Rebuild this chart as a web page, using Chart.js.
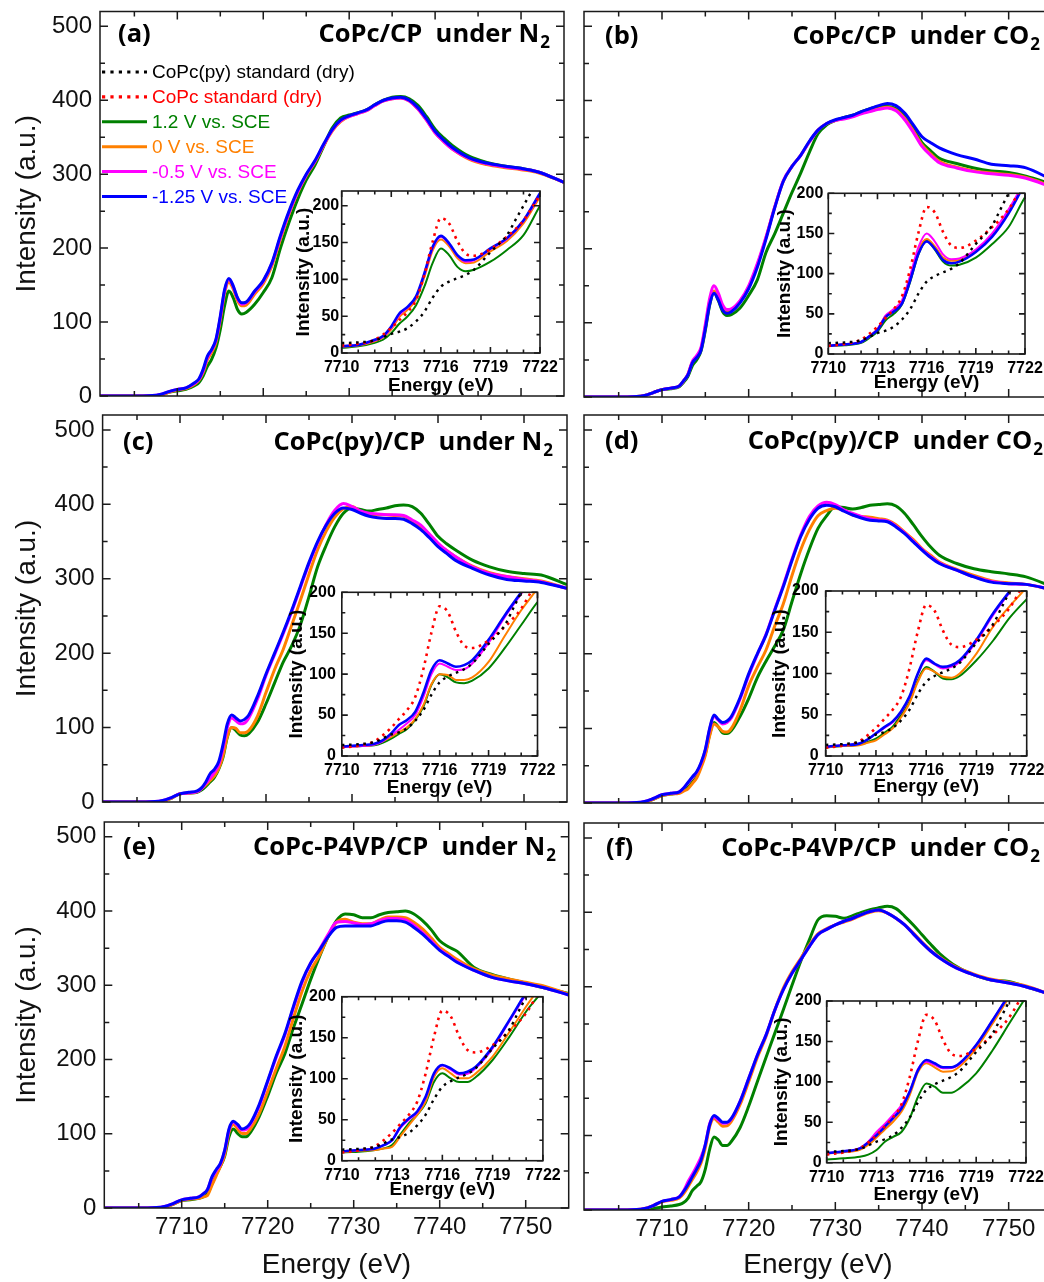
<!DOCTYPE html>
<html><head><meta charset="utf-8">
<script src="https://cdn.jsdelivr.net/npm/chart.js@4.4.0/dist/chart.umd.min.js"></script>
<style>
html,body{margin:0;padding:0;background:#fff;overflow:hidden;}
body{position:relative;width:1044px;height:1282px;}
canvas{position:absolute;}
</style></head><body>
<canvas id="ma"></canvas><canvas id="mb"></canvas><canvas id="mc"></canvas>
<canvas id="md"></canvas><canvas id="me"></canvas><canvas id="mf"></canvas>
<canvas id="ia"></canvas><canvas id="ib"></canvas><canvas id="ic"></canvas>
<canvas id="id"></canvas><canvas id="ie"></canvas><canvas id="if"></canvas>
<script>
// ---------------- DATA ----------------
const MAIN_ENERGY = [7701, 7706, 7708, 7709, 7710, 7711, 7712, 7712.5, 7713, 7713.5, 7714, 7714.5, 7715, 7715.5, 7716, 7716.5, 7717, 7717.5, 7718, 7719, 7720, 7721, 7722, 7723, 7724, 7725, 7726, 7727, 7728, 7729, 7730, 7731, 7732, 7733, 7734, 7735, 7736, 7737, 7738, 7739, 7740, 7741, 7742, 7744, 7746, 7748, 7750, 7752, 7755];

const A_GREEN   = [0,0,1,5,7,9,14,18,27,40, 50,65,90,122,142,133,117,111,113,124, 140,160,200,235,266,292,312,337,362,376, 380,383,387,394,400,404,405,402,393,378, 361,349,339,324,316,311,308,303,289];
const A_ORANGE  = [0,0,1,5,8,10,16,21,32,49, 59,73,103,139,154,145,129,122,123,138, 152,176,212,246,275,298,316,338,358,371, 378,382,386,393,399,402,403,399,388,373, 356,344,334,320,313,309,306,302,289];
const A_MAGENTA = [0,0,2,6,9,11,17,22,34,52, 62,76,106,142,158,148,132,124,126,141, 155,179,215,248,276,299,317,339,359,372, 378,382,386,393,399,402,403,399,388,373, 356,344,334,321,314,310,307,303,289];
const A_BLUE    = [0,0,2,6,9,11,18,23,36,54, 63,77,108,144,159,149,133,126,127,142, 156,180,217,250,278,300,318,340,360,373, 379,383,387,394,400,403,404,400,390,375, 358,346,336,322,315,311,308,303,289];

const B_GREEN   = [0,0,2,6,10,11,14,20,28,42, 50,62,90,124,141,130,115,110,111,120, 137,158,195,220,248,276,302,330,355,367, 373,377,380,385,389,392,392,389,380,362, 343,332,322,315,309,305,303,298,287];
const B_ORANGE  = [0,0,2,6,10,12,15,22,31,47, 54,65,95,129,143,134,120,116,117,129, 148,178,215,256,291,311,326,344,360,369, 373,376,379,383,386,389,391,387,376,359, 340,328,318,310,305,302,300,296,284];
const B_MAGENTA = [0,0,2,6,10,12,15,22,31,48, 56,67,98,133,150,140,124,118,119,130, 150,180,216,256,292,311,326,344,360,369, 373,375,378,382,385,388,390,386,374,357, 338,326,316,309,304,301,299,295,283];
const B_BLUE    = [0,0,2,6,10,12,15,22,30,46, 53,63,92,125,140,131,117,113,115,127, 146,175,213,255,291,311,326,345,360,369, 374,377,380,385,389,393,396,393,383,367, 351,343,336,327,321,314,312,309,293];

const C_GREEN   = [0,0,1,5,11,12,13,16,21,27, 33,44,60,87,100,96,90,89,92,107, 132,160,188,210,238,276,316,345,370,388, 395,393,391,393,395,398,399,397,388,373, 357,347,339,325,316,310,307,305,292];
const C_ORANGE  = [0,0,1,5,11,12,14,18,23,29, 35,45,62,88,100,99,93,93,96,115, 147,178,205,238,271,306,339,364,383,394, 397,390,386,386,386,385,384,378,368,357, 346,338,330,317,308,303,300,297,287];
const C_MAGENTA = [0,0,2,6,11,12,14,18,25,32, 40,50,72,100,113,109,105,106,113,138, 170,198,226,256,288,320,348,373,392,401, 397,391,388,387,386,386,385,379,372,360, 348,338,330,316,307,303,299,296,287];
const C_BLUE    = [0,0,2,6,11,13,15,19,27,38, 44,54,77,105,117,113,109,111,117,142, 172,200,228,258,290,322,350,372,388,395, 393,388,384,382,381,381,380,374,366,355, 343,334,325,314,305,299,297,295,287];

const D_GREEN   = [0,0,1,5,10,12,14,17,21,28, 35.5,50,66,92,108,102,94,93,97,116, 140,168,190,210,232,270,307,340,368,385, 397,396,394,396,399,400,401,398,388,373, 357,343,332,321,314,310,307,303,290];
const D_ORANGE  = [0,0,1,5,10,12,13,16,19,26, 33.5,47,64,90,106,102,96,95,100,124, 157,182,205,237,267,305,339,366,385,392, 395,392,386,384,383,381,379,373,363,353, 341,332,323,313,305,298,295,293,286];
const D_MAGENTA = [0,0,2,6,11,13,15,20,27,34, 41,53,71,99,116,111,106,108,114,139, 171,199,226,259,292,327,359,384,398,403, 400,393,388,384,381,379,378,371,362,351, 340,330,322,312,303,297,294,293,286];
const D_BLUE    = [0,0,2,6,11,13,15,20,27.5,35, 42,54,72,100,118,112,108,110,116,141, 173,200,225,258,290,325,357,380,395,399, 397,391,386,382,379,378,377,370,361,350, 339,329,321,312,303,296,294,293,286];

const E_GREEN   = [0,0,1,5,10,11,13,15,19,32, 45.5,56,70,96,106.5,100.4,96,96,102,122.8, 151,182,208,243,275,308,338,365,387,396, 395,391,391,395,398,399,400,396,387,375, 360,352,346,324,315,308.5,303,297,289];
const E_ORANGE  = [0,0,1,5,10,12,13,15,17,30, 43,56,72,102,112.6,106.5,100.4,100.4,106.5,127, 157,188,218,256,292,320,340,365,385,389, 385,383,383,388,392,392,391,385,376,364, 351,343,335,322,314,308.5,304,299.5,288];
const E_MAGENTA = [0,0,2,6,11,13,15,19,25,40, 50,59,77,105,116,111,105,106,113,137, 170,203,233,270,304,330,348,368,385,386, 384,382,383,387,390,390,388,381,371,360, 348,340,332,320,311,306,302,297,287];
const E_BLUE    = [0,0,2,6,11,13,15,19,25,41.5, 51.6,60,78,106.5,116.7,112.6,106.5,108.5,114.6,139, 171.5,205,235,272,306,330,347,365,378,380, 380,380,380,384,387,387,385,378,369,358, 347,339,331,320,311,306,302,297,287];

const F_GREEN   = [0,0,0,2,4,5.4,7.4,10,15.7,26, 32,38,55,81.6,98,94,86.6,86.6,92,110.5, 139.4,172.4,205,237,269,302,334,363,390,395.5, 394.6,392,395.5,400,403.6,406,408,405,394.6,383, 370,357,345,327,316,309,307,300,289];
const F_ORANGE  = [0,0,2,6,11,13,16,22,31,41, 50.7,63,83.7,112,123,118,112.6,113,119,141.4, 172.4,205,233,268,298,320,338,356,371,378, 383,387,391,396,400,402,399,392,383,372, 360,349,340,326,317,310,306,301,289];
const F_MAGENTA = [0,0,2,6,11.5,14,18,26,38,48, 59,71,88,116,125,121,116.7,117,122,145.6, 176.5,208,235,268,296,318,336,354,370,377, 383,388,392,397,401,403,399,392,383,371, 359,348,339,325,316,309,305,300,289];
const F_BLUE    = [0,0,2,6,11.5,14,17.7,25,34,44.5, 55,67,88,114.6,127,123,118,118,123,145.6, 176.5,208,235,268,296,318,336,354,370,377, 383,388,392,397,401,403,399,392,383,371, 359,348,339,325,316,309,305,300,289];

const STD_ENERGY  = [7710, 7711, 7712, 7713, 7713.5, 7714, 7714.5, 7715, 7715.5, 7716, 7716.5, 7717, 7717.5, 7718, 7719, 7720, 7720.5, 7721, 7722];
const STD_COPC_PY = [13.5, 14.4, 17, 26, 29, 34, 43, 56, 75, 90, 97, 101.6, 106, 113, 137, 160, 180, 200, 240];
const STD_COPC    = [10, 12.6, 18, 34, 45, 56, 72, 106, 151, 183, 176, 152, 135, 132, 141, 158, 168, 180, 215];

const SERIES_LABELS = ['CoPc(py) standard (dry)', 'CoPc standard (dry)', '1.2 V vs. SCE', '0 V vs. SCE', '-0.5 V vs. SCE', '-1.25 V vs. SCE'];
const PANEL_LETTERS = ['(a)', '(b)', '(c)', '(d)', '(e)', '(f)'];
const PANEL_TITLES = ['CoPc/CP  under N', 'CoPc/CP  under CO', 'CoPc(py)/CP  under N', 'CoPc(py)/CP  under CO', 'CoPc-P4VP/CP  under N', 'CoPc-P4VP/CP  under CO'];
const TITLE_SUBSCRIPT = '2';
const MAIN_X_TICKS = [7710, 7720, 7730, 7740, 7750];
const MAIN_X_MINOR = [7705, 7715, 7725, 7735, 7745];
const MAIN_Y_TICKS = [0, 100, 200, 300, 400, 500];
const MAIN_Y_MINOR = [50, 150, 250, 350, 450];
const INSET_X_TICKS = [7710, 7713, 7716, 7719, 7722];
const INSET_X_MINOR = [7711, 7712, 7714, 7715, 7717, 7718, 7720, 7721];
const INSET_Y_TICKS = [0, 50, 100, 150, 200];
const INSET_Y_MINOR = [25, 75, 125, 175];
const X_LABEL = 'Energy (eV)';
const Y_LABEL = 'Intensity (a.u.)';

// ---------------- STYLE / LAYOUT ----------------
const SANS = "'Liberation Sans', Arial, sans-serif";
const BOLD_TITLE = "'Open Sans', 'Liberation Sans', sans-serif";
const SERIES_STYLE = [
  {color:'#000000', dash:[2.6,4.6]},
  {color:'#ff0000', dash:[2.6,4.6]},
  {color:'#008000'},
  {color:'#ff8000'},
  {color:'#ff00ff'},
  {color:'#0000ff'}
];
const PANELS = [
  {m:'ma', i:'ia', s:[A_GREEN,A_ORANGE,A_MAGENTA,A_BLUE], left:true, bottom:false, legend:true,
   canvas:{left:0,top:0,w:580,h:412}, area:{l:100,t:11.5,r:564,b:396}, letter:[118,35], titleR:[550,35],
   ic:{left:280,top:178,w:280,h:222}, ia:{l:341.7,t:191,r:540,b:353}, ymax:220, energyY:386, titleX:303.3, yPad:2.5},
  {m:'mb', i:'ib', s:[B_GREEN,B_ORANGE,B_MAGENTA,B_BLUE], left:false, bottom:false,
   canvas:{left:574,top:0,w:496,h:412}, area:{l:584,t:11.5,r:1052,b:397}, letter:[605,37], titleR:[1040,37],
   ic:{left:760,top:180,w:290,h:220}, ia:{l:828.3,t:193.3,r:1025,b:354}, ymax:200, energyY:383, titleX:785, yPad:5},
  {m:'mc', i:'ic', s:[C_GREEN,C_ORANGE,C_MAGENTA,C_BLUE], left:true, bottom:false,
   canvas:{left:0,top:405,w:580,h:414}, area:{l:102.6,t:415,r:567,b:802}, letter:[123,443], titleR:[553,443],
   ic:{left:280,top:578,w:280,h:232}, ia:{l:341.8,t:592.3,r:537.5,b:756}, ymax:200, energyY:788, titleX:296.4, yPad:6},
  {m:'md', i:'id', s:[D_GREEN,D_ORANGE,D_MAGENTA,D_BLUE], left:false, bottom:false,
   canvas:{left:574,top:405,w:496,h:414}, area:{l:584,t:415,r:1052,b:803}, letter:[605,442], titleR:[1043,442],
   ic:{left:760,top:578,w:290,h:232}, ia:{l:825.7,t:591,r:1026.7,b:756}, ymax:200, energyY:786.7, titleX:780, yPad:7},
  {m:'me', i:'ie', s:[E_GREEN,E_ORANGE,E_MAGENTA,E_BLUE], left:true, bottom:true,
   canvas:{left:0,top:812,w:580,h:470}, area:{l:104.3,t:822,r:568.7,b:1208}, letter:[123,848], titleR:[556,848],
   ic:{left:280,top:983,w:280,h:232}, ia:{l:341.8,t:996.7,r:542.9,b:1160.7}, ymax:200, energyY:1190, titleX:296.4, yPad:6},
  {m:'mf', i:'if', s:[F_GREEN,F_ORANGE,F_MAGENTA,F_BLUE], left:false, bottom:true,
   canvas:{left:574,top:812,w:496,h:470}, area:{l:584,t:823,r:1052,b:1210}, letter:[606,849], titleR:[1040,849],
   ic:{left:760,top:988,w:290,h:232}, ia:{l:826.7,t:1001,r:1026,b:1162.7}, ymax:200, energyY:1195, titleX:781.7, yPad:5}
];

// ---------------- PLUGINS ----------------
const framePlugin = {
  id:'frame',
  beforeDraw(chart, args, o) {
    if (!o.fill) return;
    const {ctx, chartArea:a} = chart;
    ctx.save(); ctx.fillStyle = '#ffffff';
    ctx.fillRect(a.left, a.top, a.right - a.left, a.bottom - a.top);
    ctx.restore();
  },
  afterDatasetsDraw(chart, args, o) {
    const {ctx, chartArea:a, scales:{x, y}} = chart;
    ctx.save();
    ctx.strokeStyle = '#1a1a1a'; ctx.lineWidth = o.width; ctx.setLineDash([]);
    ctx.beginPath();
    const xt = (vals, len) => vals.forEach(v => {
      const px = x.getPixelForValue(v);
      if (px < a.left - 0.5 || px > a.right + 0.5) return;
      ctx.moveTo(px, a.bottom); ctx.lineTo(px, a.bottom - len);
      ctx.moveTo(px, a.top); ctx.lineTo(px, a.top + len);
    });
    const yt = (vals, len) => vals.forEach(v => {
      const py = y.getPixelForValue(v);
      if (py < a.top - 0.5 || py > a.bottom + 0.5) return;
      ctx.moveTo(a.left, py); ctx.lineTo(a.left + len, py);
      ctx.moveTo(a.right, py); ctx.lineTo(a.right - len, py);
    });
    xt(o.xMajor, o.major); xt(o.xMinor, o.minor);
    yt(o.yMajor, o.major); yt(o.yMinor, o.minor);
    ctx.stroke();
    ctx.strokeRect(a.left, a.top, a.right - a.left, a.bottom - a.top);
    ctx.restore();
  }
};
const titlePlugin = {
  id:'panelTitle',
  afterDraw(chart, args, o) {
    if (!o.title) return;
    const ctx = chart.ctx;
    ctx.save();
    ctx.fillStyle = '#000'; ctx.textBaseline = 'middle'; ctx.textAlign = 'left';
    const mainFont = 'bold 25.5px ' + BOLD_TITLE, subFont = 'bold 17px ' + BOLD_TITLE;
    ctx.font = mainFont;
    ctx.fillText(o.letter, o.letterPos[0] - o.ox, o.letterPos[1] - o.oy);
    ctx.font = subFont; const sw = ctx.measureText(TITLE_SUBSCRIPT).width;
    ctx.font = mainFont; const mw = ctx.measureText(o.title).width;
    const x0 = o.titleR[0] - o.ox - sw - mw - 1;
    ctx.fillText(o.title, x0, o.titleR[1] - o.oy);
    ctx.font = subFont;
    ctx.fillText(TITLE_SUBSCRIPT, x0 + mw + 1, o.titleR[1] - o.oy + 8);
    ctx.restore();
  }
};
const legendPlugin = {
  id:'seriesLegend',
  afterDraw(chart, args, o) {
    if (!o.show) return;
    const ctx = chart.ctx;
    ctx.save();
    ctx.font = '19px ' + SANS; ctx.textBaseline = 'middle'; ctx.textAlign = 'left';
    SERIES_LABELS.forEach((lab, k) => {
      const st = SERIES_STYLE[k];
      const yy = 72 + k * 24.9;
      ctx.strokeStyle = st.color; ctx.fillStyle = st.color;
      ctx.lineWidth = st.dash ? 3.2 : 3;
      ctx.setLineDash(st.dash ? [3.2, 5.2] : []);
      ctx.beginPath(); ctx.moveTo(102, yy); ctx.lineTo(147, yy); ctx.stroke();
      ctx.fillText(lab, 152, yy + 1);
    });
    ctx.restore();
  }
};
Chart.register(framePlugin, titlePlugin, legendPlugin);

function place(cv, c) {
  cv.width = c.w; cv.height = c.h;
  cv.style.left = c.left + 'px'; cv.style.top = c.top + 'px';
  cv.style.width = c.w + 'px'; cv.style.height = c.h + 'px';
}
function series(xs, ys, k, width, order) {
  const st = SERIES_STYLE[k];
  return {
    label: SERIES_LABELS[k],
    data: xs.map((x, j) => ({x: x, y: ys[j]})),
    borderColor: st.color, backgroundColor: st.color,
    borderWidth: width, borderDash: st.dash || [],
    pointRadius: 0, fill: false, cubicInterpolationMode: 'monotone', order: order
  };
}
function setTicks(list) { return s => { s.ticks = list.map(v => ({value: v})); }; }
const plain = v => String(v);

PANELS.forEach((p, n) => {
  // main chart
  const c = p.canvas, a = p.area;
  const cv = document.getElementById(p.m); place(cv, c);
  new Chart(cv, {
    type:'line',
    data:{datasets:[
      series(MAIN_ENERGY, p.s[3], 5, 3, 0),
      series(MAIN_ENERGY, p.s[2], 4, 3, 1),
      series(MAIN_ENERGY, p.s[1], 3, 3, 2),
      series(MAIN_ENERGY, p.s[0], 2, 3, 3)
    ]},
    options:{
      responsive:false, animation:false, events:[], devicePixelRatio:1,
      layout:{padding:{left:0, top:a.t - c.top, right:c.left + c.w - a.r, bottom:0}},
      plugins:{
        legend:{display:false}, tooltip:{enabled:false},
        frame:{width:1.5, major:8, minor:5, xMajor:MAIN_X_TICKS, xMinor:MAIN_X_MINOR, yMajor:MAIN_Y_TICKS, yMinor:MAIN_Y_MINOR},
        panelTitle:{title:PANEL_TITLES[n], letter:PANEL_LETTERS[n], letterPos:p.letter, titleR:p.titleR, ox:c.left, oy:c.top},
        seriesLegend:{show:!!p.legend}
      },
      scales:{
        x:{type:'linear', min:7701, max:7755,
           grid:{display:false, drawTicks:false}, border:{display:false},
           ticks:{display:p.bottom, color:'#111', font:{family:SANS, size:24}, padding:5, maxRotation:0, autoSkip:false, callback:plain},
           title:{display:p.bottom, text:X_LABEL, color:'#111', font:{family:SANS, size:28}, padding:{top:0, bottom:0}},
           afterBuildTicks:setTicks(MAIN_X_TICKS),
           afterFit:s => { s.height = c.top + c.h - a.b; s.paddingLeft = 0; s.paddingRight = 0; }},
        y:{type:'linear', min:0, max:520,
           grid:{display:false, drawTicks:false}, border:{display:false},
           ticks:{display:p.left, color:'#111', font:{family:SANS, size:24}, padding:8, callback:plain},
           title:{display:p.left, text:Y_LABEL, color:'#111', font:{family:SANS, size:28}, padding:{top:10, bottom:0}},
           afterBuildTicks:setTicks(MAIN_Y_TICKS),
           afterFit:s => { s.width = a.l - c.left; s.paddingTop = 0; s.paddingBottom = 0; }}
      }
    }
  });

  // inset chart
  const ic = p.ic, ia = p.ia;
  const iv = document.getElementById(p.i); place(iv, ic);
  new Chart(iv, {
    type:'line',
    data:{datasets:[
      series(STD_ENERGY, STD_COPC_PY, 0, 2.4, -2),
      series(STD_ENERGY, STD_COPC, 1, 2.6, -1),
      series(MAIN_ENERGY, p.s[3], 5, 2.6, 0),
      series(MAIN_ENERGY, p.s[2], 4, 2, 1),
      series(MAIN_ENERGY, p.s[1], 3, 2, 2),
      series(MAIN_ENERGY, p.s[0], 2, 2, 3)
    ]},
    options:{
      responsive:false, animation:false, events:[], devicePixelRatio:1,
      layout:{padding:{left:0, top:ia.t - ic.top, right:ic.left + ic.w - ia.r, bottom:0}},
      plugins:{
        legend:{display:false}, tooltip:{enabled:false},
        frame:{fill:true, width:1.6, major:6, minor:3.5, xMajor:INSET_X_TICKS, xMinor:INSET_X_MINOR, yMajor:INSET_Y_TICKS, yMinor:INSET_Y_MINOR},
        panelTitle:{title:null}, seriesLegend:{show:false}
      },
      scales:{
        x:{type:'linear', min:7710, max:7722,
           grid:{display:false, drawTicks:false}, border:{display:false},
           ticks:{color:'#000', font:{family:SANS, size:16, weight:'bold'}, padding:5, maxRotation:0, autoSkip:false, callback:plain},
           title:{display:true, text:X_LABEL, color:'#000', font:{family:SANS, size:19, weight:'bold'}, padding:{top:0, bottom:ic.top + ic.h - p.energyY - 11.4}},
           afterBuildTicks:setTicks(INSET_X_TICKS),
           afterFit:s => { s.height = ic.top + ic.h - ia.b; s.paddingLeft = 0; s.paddingRight = 0; }},
        y:{type:'linear', min:0, max:p.ymax,
           grid:{display:false, drawTicks:false}, border:{display:false},
           ticks:{color:'#000', font:{family:SANS, size:16, weight:'bold'}, padding:p.yPad, callback:plain},
           title:{display:true, text:Y_LABEL, color:'#000', font:{family:SANS, size:19, weight:'bold'}, padding:{top:p.titleX - ic.left - 11.4, bottom:0}},
           afterBuildTicks:setTicks(INSET_Y_TICKS),
           afterFit:s => { s.width = ia.l - ic.left; s.paddingTop = 0; s.paddingBottom = 0; }}
      }
    }
  });
});
</script>
</body></html>
